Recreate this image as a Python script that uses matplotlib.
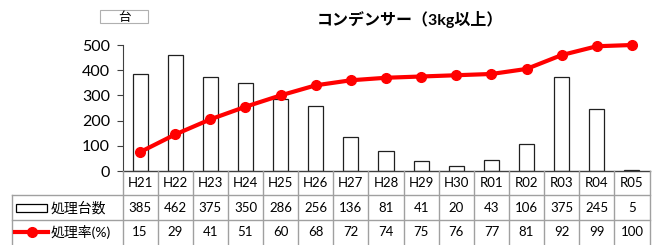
import matplotlib
matplotlib.use("Agg")
import matplotlib.pyplot as plt
from matplotlib.patches import Rectangle
from matplotlib.lines import Line2D
import matplotlib.transforms as mtrans

plt.rcParams['font.family'] = ['Lato', 'Noto Sans CJK JP', 'DejaVu Sans']

categories = ["H21", "H22", "H23", "H24", "H25", "H26", "H27", "H28", "H29", "H30",
              "R01", "R02", "R03", "R04", "R05"]
units = [385, 462, 375, 350, 286, 256, 136, 81, 41, 20, 43, 106, 375, 245, 5]
rates = [15, 29, 41, 51, 60, 68, 72, 74, 75, 76, 77, 81, 92, 99, 100]
title = "コンデンサー（3kg以上）"
unit_label = "台"
series_names = ["処理台数", "処理率(%)"]
yticks = [0, 100, 200, 300, 400, 500]

W, H = 653, 245
fig = plt.figure(figsize=(W / 100, H / 100), dpi=100)

def fx(px):
    return px / W

def fy(py):
    return 1 - py / H

ax_l, ax_r, ax_t, ax_b = 122.5, 649.5, 45, 171
ax = fig.add_axes([fx(ax_l), fy(ax_b), fx(ax_r - ax_l), (ax_b - ax_t) / H])
n = len(categories)
x = list(range(n))
ax.bar(x, units, width=0.43, color="white", edgecolor="#202020", linewidth=0.9, zorder=2)
ax.set_xlim(-0.5, n - 0.5)
ax.set_ylim(0, 500)
ax.set_yticks(yticks)
ax.set_xticks([])
for s in ["top", "right"]:
    ax.spines[s].set_visible(False)
ax.spines["bottom"].set_visible(False)
ax.spines["left"].set_color("#404040")
ax.tick_params(axis="y", labelsize=11.5, length=4, color="#404040", pad=5)

ax2 = ax.twinx()
ax2.set_ylim(0, 100)
ax2.plot(x, rates, color="#ff0000", linewidth=3, marker="o", markersize=7, zorder=3,
         clip_on=False)
ax2.axis("off")

# title and unit
fig.text(fx(410), fy(20), title, ha="center", va="center", fontsize=11.5, fontweight="bold")
fig.patches.append(Rectangle((fx(100), fy(23)), fx(48), 13 / H, transform=fig.transFigure,
                             facecolor="white", edgecolor="#b0b0b0", linewidth=0.8))
fig.text(fx(124), fy(16.5), unit_label, ha="center", va="center", fontsize=9)

# data table
trans = mtrans.blended_transform_factory(ax.transData, fig.transFigure)
grid_c = "#a0a0a0"
fig.add_artist(Line2D([fx(ax_l), fx(ax_r)], [fy(171), fy(171)], color="#404040", lw=1))
for yy in [195, 220]:
    fig.add_artist(Line2D([fx(12), fx(ax_r)], [fy(yy), fy(yy)], color=grid_c, lw=1))
fig.add_artist(Line2D([fx(12), fx(12)], [fy(195), fy(245)], color=grid_c, lw=1))
for i in range(n + 1):
    xv = i - 0.5
    fig.add_artist(Line2D([xv, xv], [fy(171), fy(245)], color=grid_c, lw=1, transform=trans))
for i in range(n):
    fig.text(i, fy(183), categories[i], transform=trans, ha="center", va="center", fontsize=9.5)
    fig.text(i, fy(208), str(units[i]), transform=trans, ha="center", va="center", fontsize=9.5)
    fig.text(i, fy(232), str(rates[i]), transform=trans, ha="center", va="center", fontsize=9.5)

# legend keys in table
fig.patches.append(Rectangle((fx(16), fy(212)), fx(31), 8 / H, transform=fig.transFigure,
                             facecolor="white", edgecolor="black", linewidth=0.9))
fig.text(fx(51), fy(207.5), series_names[0], ha="left", va="center", fontsize=10)
fig.add_artist(Line2D([fx(15), fx(31.5), fx(48)], [fy(232)] * 3, color="#ff0000", lw=3,
                      marker="o", markersize=7, markevery=[1]))
fig.text(fx(51), fy(232), series_names[1], ha="left", va="center", fontsize=10)

fig.savefig("out.png", dpi=100)
